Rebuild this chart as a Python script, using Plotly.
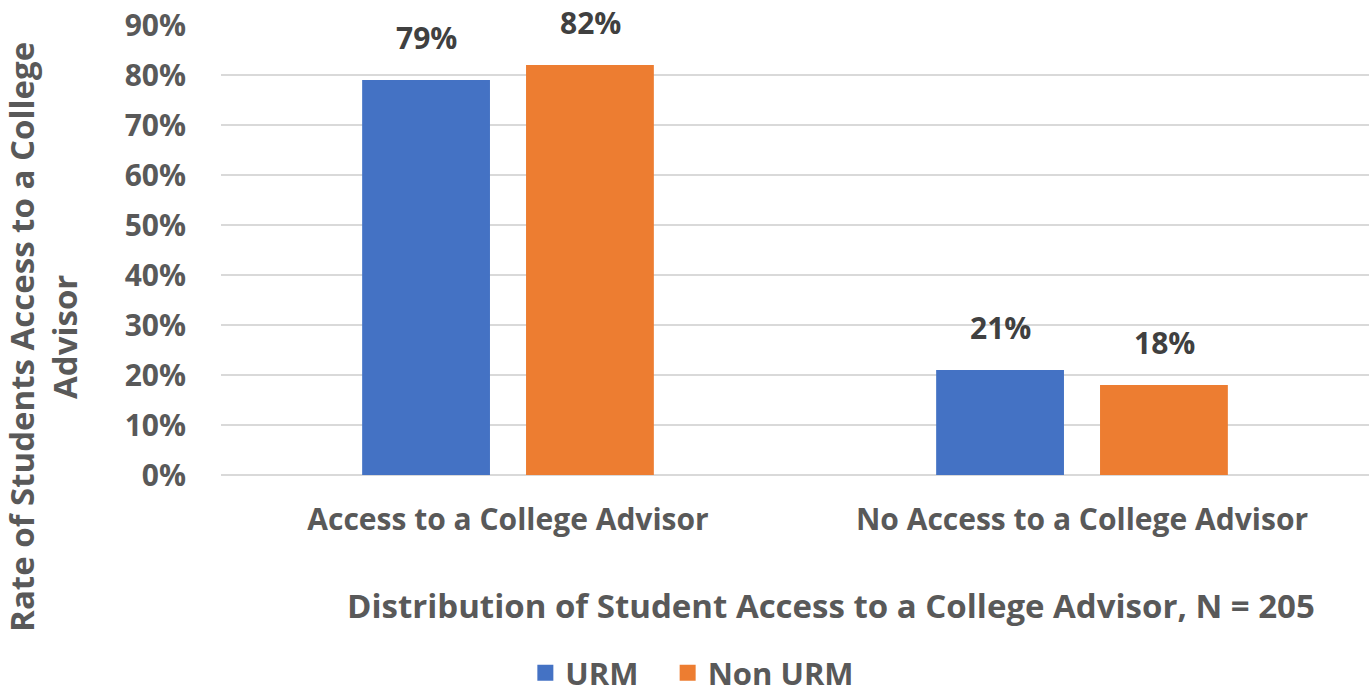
import plotly.graph_objects as go

categories = ["Access to a College Advisor", "No Access to a College Advisor"]
urm = [0.79, 0.21]
non_urm = [0.82, 0.18]
series_names = ["URM", "Non URM"]
series_colors = ["#4472C4", "#ED7D31"]
y_ticks = [0, 0.1, 0.2, 0.3, 0.4, 0.5, 0.6, 0.7, 0.8, 0.9]
y_ticktext = ["0%", "10%", "20%", "30%", "40%", "50%", "60%", "70%", "80%", "90%"]

FONT = "Open Sans"
AX = "#595959"
LBL = "#404040"

fig = go.Figure()
series = [urm, non_urm]
for name, vals, col in zip(series_names, series, series_colors):
    fig.add_trace(go.Bar(
        x=categories, y=vals, name=name, showlegend=False, legendgroup=name,
        marker=dict(color=col, line=dict(width=0)),
    ))
# legend entries with larger square swatches (extra spacing after first entry)
legend_pad = ["\u00a0\u00a0\u00a0", ""]
for name, col, pad in zip(series_names, series_colors, legend_pad):
    fig.add_trace(go.Scatter(
        x=[None], y=[None], mode="markers", name=name + pad, legendgroup=name,
        marker=dict(symbol="square", size=19, color=col), hoverinfo="skip",
    ))

# data labels, placed above each bar
slot_px = 164
for i, vals in enumerate(series):
    for cat, v in zip(categories, vals):
        fig.add_annotation(
            x=cat, y=v, xref="x", yref="y", text=f"{v*100:.0f}%",
            showarrow=False, xanchor="center", yanchor="bottom",
            xshift=(i - 0.5) * slot_px, yshift=20,
            font=dict(family=FONT, size=30, color=LBL, weight="bold"),
        )

fig.update_layout(
    width=1371, height=700,
    margin=dict(l=221, r=2, t=25, b=225),
    paper_bgcolor="white", plot_bgcolor="white",
    barmode="group", bargap=0.429, bargroupgap=0.22,
    font=dict(family=FONT, color=AX, weight="bold"),
    showlegend=True,
    legend=dict(orientation="h", x=0.505, xanchor="center", xref="container",
                y=0, yref="container", yanchor="bottom",
                font=dict(family=FONT, size=31, color=AX, weight="bold"),
                itemwidth=30, itemsizing="trace", traceorder="normal"),
)
fig.update_yaxes(
    range=[0, 0.9], tickvals=y_ticks, ticktext=y_ticktext,
    showgrid=True, gridcolor="#D9D9D9", gridwidth=2,
    zeroline=True, zerolinecolor="#D9D9D9", zerolinewidth=2,
    showline=False, ticks="", ticklabelstandoff=34,
    tickfont=dict(family=FONT, size=30, color=AX, weight="bold"),
)
fig.update_xaxes(
    showline=False, ticks="", ticklabelstandoff=24,
    tickfont=dict(family=FONT, size=30, color=AX, weight="bold"),
)
fig.add_annotation(
    text="Rate of Students Access to a College<br>Advisor", textangle=-90,
    xref="paper", yref="paper", x=-0.155, y=0.307, xanchor="center", yanchor="middle",
    showarrow=False, font=dict(family=FONT, size=33, color=AX, weight="bold"),
    align="center",
)
fig.add_annotation(
    text="Distribution of Student Access to a College Advisor, N = 205",
    xref="paper", yref="paper", x=0.531, y=-0.289, xanchor="center", yanchor="middle",
    showarrow=False, font=dict(family=FONT, size=33, color=AX, weight="bold"),
)

fig.write_html("out.html")
